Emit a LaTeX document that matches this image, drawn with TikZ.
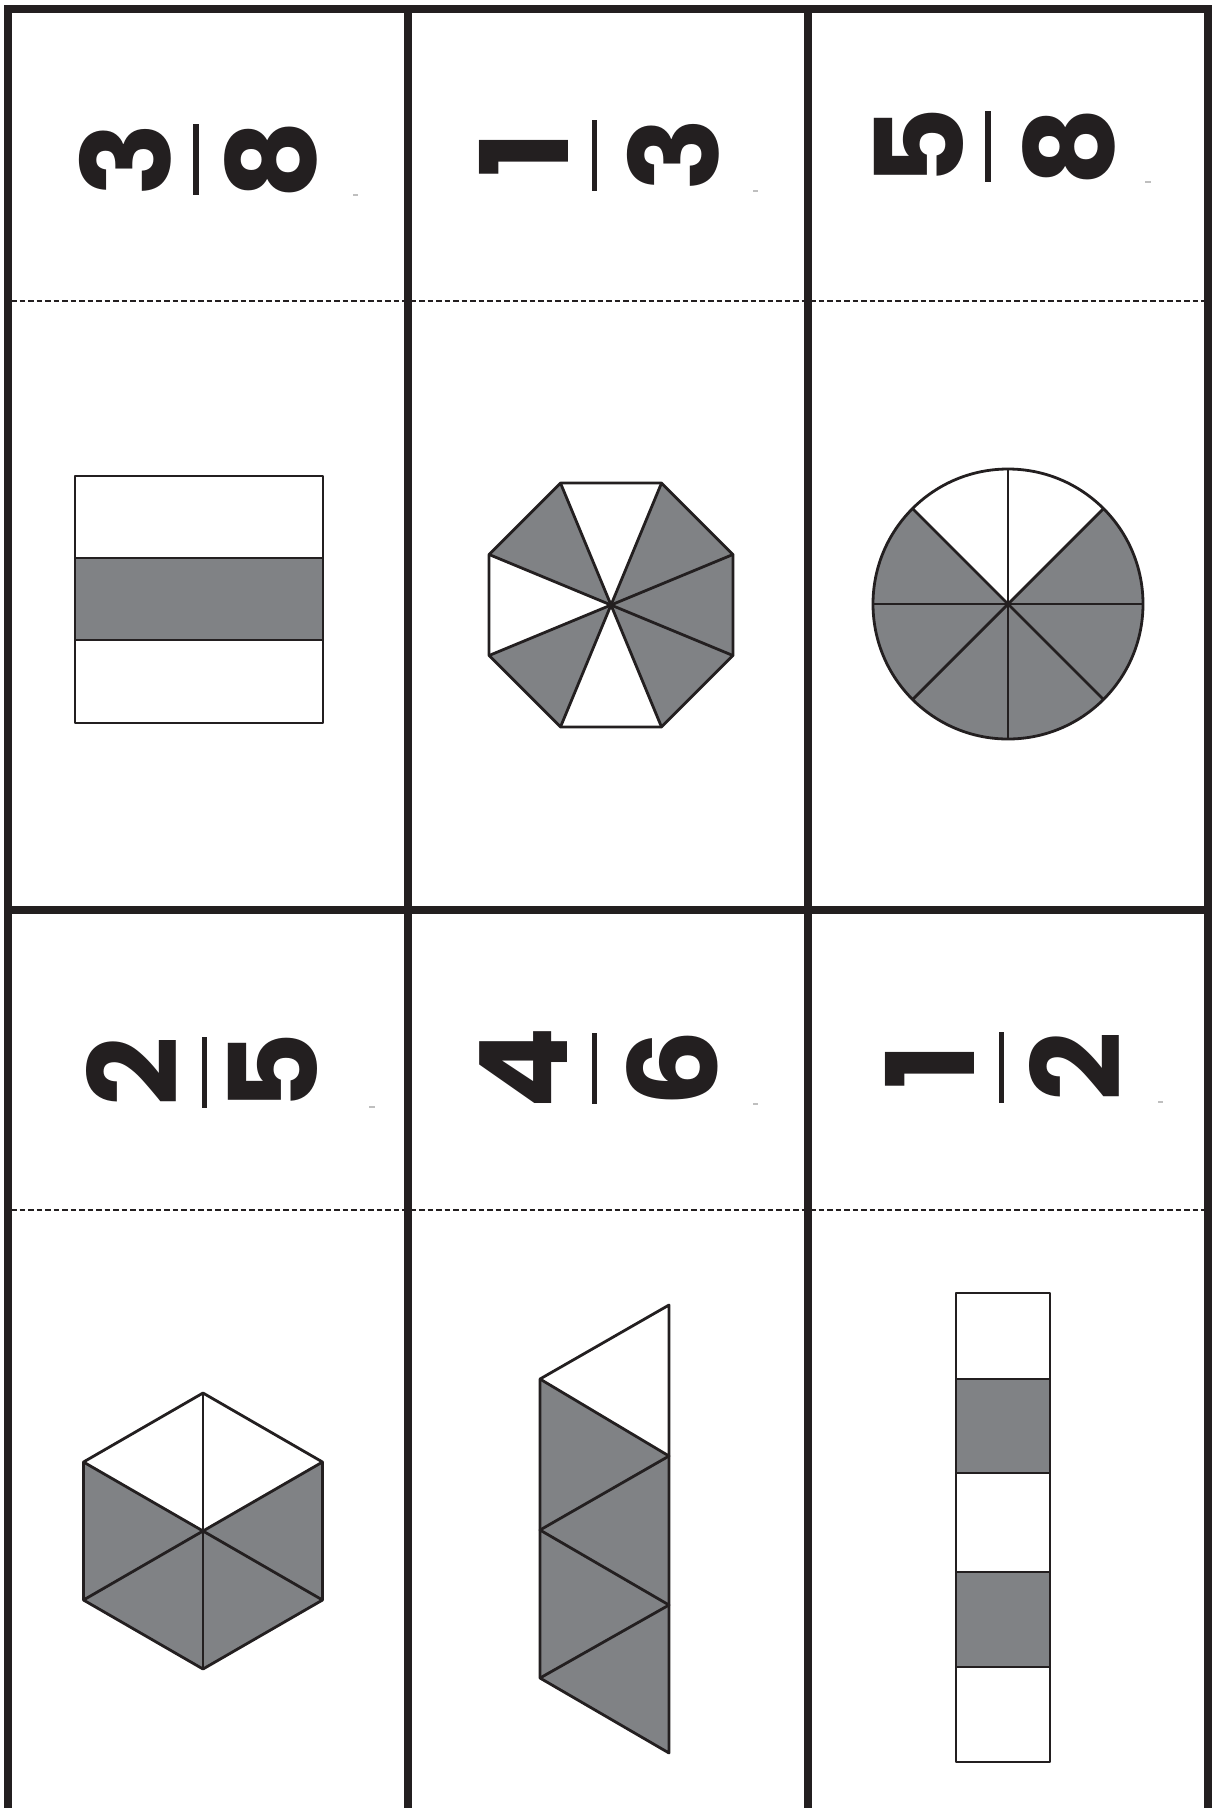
\documentclass[tikz,border=0pt]{standalone}
\usepackage{fontspec}
\usepackage{tikz}
\usetikzlibrary{positioning}

\newfontfamily\cardfont{Poppins}
\definecolor{ink}{HTML}{231F20}
\definecolor{partgray}{HTML}{808285}

\tikzset{
    frameline/.style={draw=ink, line width=8pt},
    cutline/.style={draw=ink, line width=1.6pt, dash pattern=on 5.5pt off 3pt},
    part/.style={draw=ink, line width=2.8pt, line join=round},
    fracbar/.style={fill=ink, inner sep=0pt, minimum width=5.5pt, minimum height=71pt},
    digit/.style={rotate=90, inner sep=0pt, text=ink, font=\cardfont\bfseries\fontsize{122}{122}\selectfont},
    speck/.style={draw=gray!50, line width=1.2pt}
}

\begin{document}
\begin{tikzpicture}[x=1pt, y=-1pt]
    \useasboundingbox (0,0) rectangle (1212,1808);

    % Card frame and fold lines
    \draw[frameline] (7.5,1808) -- (7.5,9) -- (1208,9) -- (1208,1808);
    \draw[frameline] (408,9) -- (408,1808);
    \draw[frameline] (808,9) -- (808,1808);
    \draw[frameline] (7.5,910) -- (1208,910);
    \draw[cutline] (11,301) -- (1204,301);
    \draw[cutline] (11,1210) -- (1204,1210);

    % First card - 3/8, square in three strips
    \node[fracbar] (bar1) at (196,159.5) {};
    \node[digit, left=23pt of bar1, anchor=base] (num1) {3};
    \node[digit, right=25pt of bar1, anchor=north] (den1) {8};
    \draw[speck] (353,195) -- (358,195);
    \fill[partgray] (75,558) rectangle (323,640);
    \draw[part] (75,476) rectangle (323,723);
    \draw[part] (75,558) -- (323,558);
    \draw[part] (75,640) -- (323,640);

    % Second card - 1/3, octagon in eighths
    \node[fracbar] (bar2) at (594.5,155) {};
    \node[digit, left=23pt of bar2, anchor=base] (num2) {1};
    \node[digit, right=30pt of bar2, anchor=north] (den2) {3};
    \draw[speck] (753,191) -- (758,191);
    \foreach \angle in {0,45,135,225,315}
        \fill[partgray] (611,605) -- +(\angle-22.5:132) -- +(\angle+22.5:132) -- cycle;
    \draw[part] (611,605) +(22.5:132) -- +(67.5:132) -- +(112.5:132) -- +(157.5:132)
        -- +(202.5:132) -- +(247.5:132) -- +(292.5:132) -- +(337.5:132) -- cycle;
    \foreach \angle in {22.5,67.5,112.5,157.5,202.5,247.5,292.5,337.5}
        \draw[part] (611,605) -- +(\angle:132);

    % Third card - 5/8, circle in eighths
    \node[fracbar] (bar3) at (988,146.5) {};
    \node[digit, left=22pt of bar3, anchor=base] (num3) {5};
    \node[digit, right=31pt of bar3, anchor=north] (den3) {8};
    \draw[speck] (1145,182) -- (1151,182);
    \fill[partgray] (1008,604) -- +(-45:135) arc[start angle=-45, end angle=225, radius=135] -- cycle;
    \draw[part] (1008,604) circle[radius=135];
    \foreach \angle in {0,45,90,135,180,225,270,315}
        \draw[part] (1008,604) -- +(\angle:135);

    % Fourth card - 2/5, hexagon in sixths
    \node[fracbar] (bar4) at (204.5,1072) {};
    \node[digit, left=24pt of bar4, anchor=base] (num4) {2};
    \node[digit, right=21pt of bar4, anchor=north] (den4) {5};
    \draw[speck] (369,1107) -- (375,1107);
    \fill[partgray] (203,1531) -- +(-30:138) -- +(30:138) -- +(90:138) -- +(150:138) -- +(210:138) -- cycle;
    \draw[part] (203,1531) +(30:138) -- +(90:138) -- +(150:138) -- +(210:138)
        -- +(270:138) -- +(330:138) -- cycle;
    \foreach \angle in {30,90,150,210,270,330}
        \draw[part] (203,1531) -- +(\angle:138);

    % Fifth card - 4/6, strip of five triangles
    \node[fracbar] (bar5) at (594.5,1068.5) {};
    \node[digit, left=24pt of bar5, anchor=base] (num5) {4};
    \node[digit, right=28.5pt of bar5, anchor=north] (den5) {6};
    \draw[speck] (753,1104) -- (758,1104);
    \fill[partgray] (540,1379) -- (669,1456) -- (669,1753) -- (540,1678) -- cycle;
    \draw[part] (540,1379) -- (669,1305) -- (669,1753) -- (540,1678) -- cycle;
    \draw[part] (540,1379) -- (669,1456) -- (540,1530) -- (669,1605) -- (540,1678);

    % Sixth card - 1/2, bar in five cells
    \node[fracbar] (bar6) at (1001.5,1067) {};
    \node[digit, left=24pt of bar6, anchor=base] (num6) {1};
    \node[digit, right=25pt of bar6, anchor=north] (den6) {2};
    \draw[speck] (1158,1102) -- (1163,1102);
    \fill[partgray] (956,1379) rectangle (1050,1473);
    \fill[partgray] (956,1572) rectangle (1050,1667);
    \draw[part] (956,1293) rectangle (1050,1762);
    \foreach \y in {1379,1473,1572,1667}
        \draw[part] (956,\y) -- (1050,\y);
\end{tikzpicture}
\end{document}
